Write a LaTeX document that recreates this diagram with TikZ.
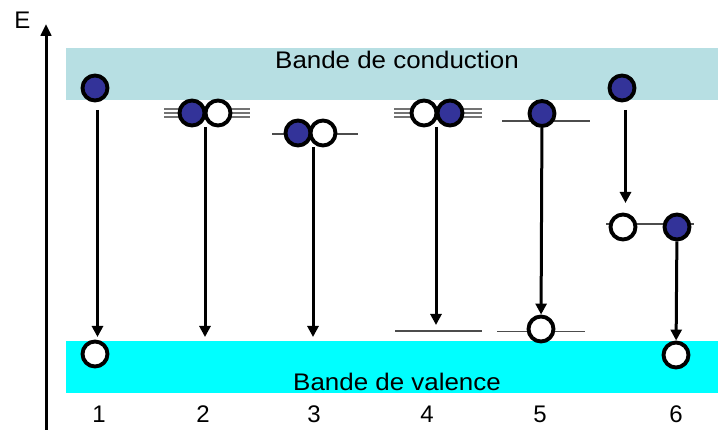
\documentclass[tikz,border=0pt]{standalone}
\usepackage{fontspec}
\setmainfont{Liberation Sans}
\newfontfamily\bandfont[FakeStretch=1.08]{Liberation Sans}
\usetikzlibrary{arrows.meta}
\definecolor{condband}{HTML}{B7DFE3}
\definecolor{valband}{HTML}{00FFFF}
\definecolor{electron}{HTML}{333399}
\tikzset{
  x=1pt, y=-1pt,
  elec/.style={circle, draw=black, line width=3.9pt, fill=electron, minimum size=25pt, inner sep=0pt},
  hole/.style={circle, draw=black, line width=3.9pt, fill=white, minimum size=25pt, inner sep=0pt},
  level/.style={draw=black!70, line width=1.1pt},
  trans/.style={draw=black, line width=3pt, -{Triangle[length=11pt,width=11pt]}},
  bandtxt/.style={font=\bandfont\fontsize{24}{28}\selectfont, inner sep=0pt, anchor=base},
  numtxt/.style={font=\fontsize{24}{26}\selectfont, inner sep=0pt, anchor=base},
}
\begin{document}
\begin{tikzpicture}
\useasboundingbox (0,0) rectangle (718,430);
% bands
\fill[condband] (66,48) rectangle (718,100);
\fill[valband] (66,341) rectangle (718,393);
\node[bandtxt] (cb) at (397,68.5) {Bande de conduction};
\node[bandtxt] (vb) at (397,391) {Bande de valence};
% energy axis
\coordinate (ax0) at (46,430);
\coordinate (ax1) at (46,24);
\draw[line width=3pt, -{Triangle[length=12pt,width=10.5pt]}] (ax0) -- (ax1);
\node[font=\fontsize{24}{26}\selectfont, inner sep=0pt, anchor=base] (E) at (22.5,29) {E};
% column labels
\foreach \n/\x in {1/99,2/203,3/314,4/427,5/540,6/676}
  \node[numtxt] (n\n) at (\x,423) {\n};

% 1: band to band
\node[elec] (e1) at (95,88) {};
\node[hole] (h1) at (95,354) {};
\draw[trans] (97.5,110) -- (97.5,337);

% 2: exciton with multiple levels
\foreach \dy in {-4,0,4}
  \draw[level, draw=black!55] (164,113+\dy) -- (250,113+\dy);
\node[elec] (e2) at (192,113) {};
\node[hole] (h2) at (218,113) {};
\coordinate (t2) at (205,337);
\draw[trans] (205,127) -- (t2);

% 3: exciton on a single level
\draw[level] (272,134) -- (358,134);
\node[elec] (e3) at (298,133) {};
\node[hole] (h3) at (323,133) {};
\coordinate (t3) at (313,337);
\draw[trans] (313,147) -- (t3);

% 4: bound exciton down to an acceptor level
\foreach \dy in {-4,0,4}
  \draw[level, draw=black!55] (394,113+\dy) -- (482,113+\dy);
\node[hole] (h4) at (424,113) {};
\node[elec] (e4) at (450,113) {};
\draw[level] (395,331) -- (482,331);
\draw[trans] (436,127) -- (436,325);

% 5: donor to acceptor
\draw[level] (502,121) -- (590,121);
\node[elec] (e5) at (542,113.5) {};
\draw[level] (497,331.5) -- (585,331.5);
\node[hole] (h5) at (541,329) {};
\draw[trans] (e5) -- (h5);

% 6: through a deep level
\node[elec] (e6) at (622,88) {};
\draw[level] (606,224) -- (694,224);
\node[hole] (h6a) at (623,227) {};
\node[elec] (e6b) at (677,227) {};
\node[hole] (h6) at (676,355) {};
\draw[trans] (625.5,110) -- (625.5,203);
\draw[trans] (e6b) -- (h6);
\end{tikzpicture}
\end{document}
